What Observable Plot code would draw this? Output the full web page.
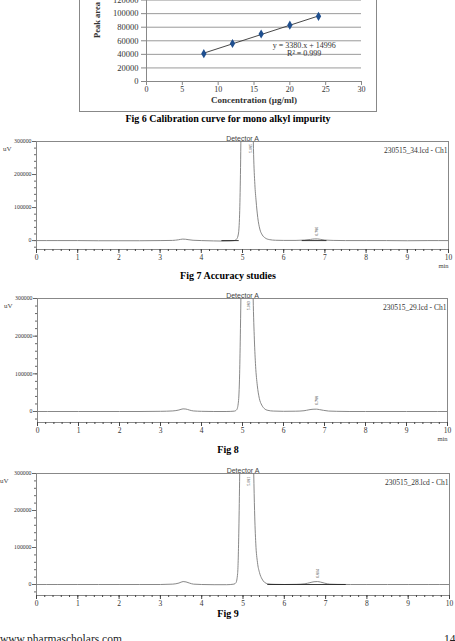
<!DOCTYPE html>
<html><head><meta charset="utf-8">
<script src="https://cdn.jsdelivr.net/npm/d3@7"></script>
<script src="https://cdn.jsdelivr.net/npm/@observablehq/plot@0.6"></script>
<style>
body{margin:0;background:#fff}
#page{position:relative;width:455px;height:641px;overflow:hidden;font-family:"Liberation Serif",serif;background:#fff}
.cap{position:absolute;left:0;width:456px;text-align:center;font-weight:bold;font-size:10px;line-height:12px;color:#000;font-family:"Liberation Serif",serif}
</style></head><body><div id="page"></div>
<script>
// ---- Fig 6 calibration data ----
const calConc = [8, 12, 16, 20, 24];
const calArea = [41000, 56000, 70000, 83000, 96000];
const calXTicks = [0, 5, 10, 15, 20, 25, 30];
const calYTicks = [0, 20000, 40000, 60000, 80000, 100000, 120000, 140000];
const calEquation = ["y = 3380.x + 14996", "R² = 0.999"];
const calEqX = [22, 22];
const calEqY = [53200, 41000];

// ---- Chromatogram data ----
const fig7Time = [0,0.5,1,1.5,2,2.5,3,3.3,3.45,3.55,3.62,3.7,3.8,4.0,4.3,4.5,4.7,4.8,4.86,4.9,4.93,4.95,4.97,5.0,5.1,5.2,5.24,5.27,5.3,5.33,5.37,5.42,5.48,5.55,5.65,5.8,6.0,6.3,6.5,6.65,6.75,6.82,6.9,7.0,7.2,7.5,8,8.5,9,9.5,10];
const fig7Signal = [0,0,0,-500,-500,-500,0,500,2500,4500,4000,2500,1000,0,-1000,-1500,-1000,0,5000,20000,80000,200000,400000,700000,950000,700000,450000,260000,170000,120000,70000,35000,17000,8000,3000,1000,500,500,1500,3500,5000,5000,3500,1500,500,0,0,0,-500,0,0];
const fig7BaseStart = [4.5, 6.45];
const fig7BaseEnd = [4.92, 7.05];
const fig7PeakT = [5.19, 6.81];
const fig7PeakV = [279000, 28000];
const fig7PeakLabel = ["5.085", "6.786"];

const fig8Time = [0,0.5,1,1.5,2,2.5,3,3.3,3.45,3.55,3.62,3.7,3.8,4.0,4.3,4.6,4.8,4.86,4.9,4.93,4.95,4.98,5.05,5.15,5.23,5.26,5.29,5.32,5.36,5.41,5.47,5.53,5.62,5.75,6.0,6.3,6.5,6.62,6.72,6.8,6.88,6.98,7.1,7.3,7.6,8,8.5,9,9.5,10];
const fig8Signal = [0,0,0,0,0,0,500,1500,4000,7000,6500,4000,1500,500,0,0,1000,5000,25000,100000,220000,450000,800000,950000,500000,300000,190000,120000,70000,35000,17000,8000,3000,1200,500,800,2000,4500,6000,6200,5000,3000,1200,500,0,0,0,0,0,0];
const fig8BaseStart = [];
const fig8BaseEnd = [];
const fig8PeakT = [5.15, 6.80];
const fig8PeakV = [281000, 29000];
const fig8PeakLabel = ["5.083", "6.788"];

const fig9Time = [0,0.5,1,1.5,2,2.5,3,3.3,3.45,3.55,3.62,3.7,3.8,4.0,4.3,4.6,4.78,4.83,4.87,4.9,4.92,4.95,5.05,5.15,5.23,5.26,5.28,5.31,5.35,5.40,5.46,5.52,5.6,5.75,6.0,6.3,6.5,6.62,6.72,6.8,6.88,6.98,7.1,7.3,7.6,8,8.5,9,9.5,10];
const fig9Signal = [0,0,0,0,0,0,0,1000,4000,8000,7000,4000,1000,0,-500,-500,1000,5000,30000,150000,300000,600000,900000,950000,500000,300000,200000,110000,60000,32000,15000,6000,2000,500,0,500,2000,5000,7500,8000,6500,3500,1000,300,0,0,0,0,0,0];
const fig9BaseStart = [5.6];
const fig9BaseEnd = [7.5];
const fig9PeakT = [5.14, 6.80];
const fig9PeakV = [279000, 30000];
const fig9PeakLabel = ["5.081", "6.804"];

const chromXMajor = [0,1,2,3,4,5,6,7,8,9,10];
const chromXMinor = d3.range(0, 10.001, 0.2);
const chromYMajor = [0, 100000, 200000, 300000];
const chromYMinor = d3.range(-20000, 300001, 20000);

const page = document.getElementById("page");
const serif = "Liberation Serif";

function place(el, left, top) {
  el.style.position = "absolute";
  el.style.left = left + "px";
  el.style.top = top + "px";
  page.appendChild(el);
  return el;
}

// ---- Fig 6 ----
const calData = calConc.map((c, i) => ({c, a: calArea[i]}));
const eqData = calEquation.map((t, i) => ({t, x: calEqX[i], y: calEqY[i]}));
const calib = Plot.plot({
  width: 298, height: 142,
  marginLeft: 67, marginRight: 16, marginTop: 16, marginBottom: 31,
  x: {domain: [0, 30]},
  y: {domain: [0, 140000]},
  style: {fontFamily: serif, fontSize: "8px", color: "#333", background: "transparent"},
  marks: [
    Plot.gridY(calYTicks.filter(d => d > 0), {stroke: "#9a9a9a", strokeOpacity: 1}),
    Plot.axisY({ticks: calYTicks, tickSize: 5, tickPadding: 3, label: null, tickFormat: d3.format("d"), stroke: "#888", fontSize: 8.5}),
    Plot.axisX({ticks: calXTicks, tickSize: 4, tickPadding: 1, label: null, stroke: "#888", fontSize: 8}),
    Plot.ruleY([0], {stroke: "#888"}),
    Plot.ruleX([0], {stroke: "#888"}),
    Plot.linearRegressionY(calData, {x: "c", y: "a", ci: 0, stroke: "#333", strokeWidth: 0.9}),
    Plot.dot(calData, {x: "c", y: "a", symbol: "diamond", fill: "#1f4f8f", r: 2.8}),
    Plot.text(eqData, {x: "x", y: "y", text: "t", fontSize: 8, fill: "#333"}),
    Plot.text(["Peak area"], {text: d => d, frameAnchor: "left", dx: -49, dy: 4, rotate: -90, fontWeight: "bold", fontSize: 8.5, fill: "#333"}),
    Plot.text(["Concentration (µg/ml)"], {text: d => d, frameAnchor: "bottom", dy: 21, fontWeight: "bold", fontSize: 9, fill: "#333"})
  ]
});
calib.style.outline = "1px solid #888";
calib.style.outlineOffset = "-1px";
place(calib, 79, -30);

function caption(text, top) {
  const d = document.createElement("div");
  d.className = "cap";
  d.textContent = text;
  d.style.top = top + "px";
  page.appendChild(d);
}
caption("Fig 6 Calibration curve for mono alkyl impurity", 113);

// ---- Chromatograms ----
function chrom(cfg) {
  const data = cfg.time.map((t, i) => ({t, v: cfg.signal[i]}));
  const base = cfg.baseStart.map((s, i) => ({x1: s, x2: cfg.baseEnd[i]}));
  const peaks = cfg.peakT.map((t, i) => ({t, v: cfg.peakV[i], l: cfg.peakLabel[i]}));
  const marks = [
    Plot.frame({stroke: "#888"}),
    Plot.axisY({ticks: chromYMinor, tickSize: 2, text: null, label: null, stroke: "#666"}),
    Plot.axisY({ticks: chromYMajor, tickSize: 4, tickPadding: 1, label: null, tickFormat: d3.format("d"), fontSize: 5.8, stroke: "#666"}),
    Plot.axisX({ticks: chromXMinor, tickSize: 2, text: null, label: null, stroke: "#444"}),
    Plot.axisX({ticks: chromXMajor, tickSize: 4, tickPadding: 1.5, label: null, fontSize: 7.5, stroke: "#444"}),
    Plot.line(data, {x: "t", y: "v", stroke: "#7a7a7a", strokeWidth: 0.9, curve: "monotone-x", clip: true}),
    Plot.ruleY(base, {x1: "x1", x2: "x2", y: 0, stroke: "#222", strokeWidth: 0.9}),
    Plot.text(peaks, {x: "t", y: "v", text: "l", rotate: -90, fontSize: 4, fill: "#444"}),
    Plot.text(["Detector A"], {text: d => d, frameAnchor: "top", dy: -5, fontSize: 7, fontFamily: "Liberation Sans", fill: "#444"}),
    Plot.text([cfg.file], {text: d => d, frameAnchor: "top-right", dx: -1, dy: 6, textAnchor: "end", fontSize: 7.5, fill: "#333"}),
    Plot.text(["uV"], {text: d => d, frameAnchor: "top-left", dx: cfg.uvDx, dy: 5, textAnchor: "end", fontSize: 7, fill: "#444"})
  ];
  if (cfg.min) marks.push(Plot.text(["min"], {text: d => d, frameAnchor: "bottom-right", dy: 18, textAnchor: "end", fontSize: 6.5, fill: "#444"}));
  const p = Plot.plot({
    width: 455, height: cfg.height,
    marginLeft: cfg.ml, marginRight: cfg.mr, marginTop: 13, marginBottom: 22,
    x: {domain: [0, 10]},
    y: {domain: [cfg.ymin, 300000]},
    style: {fontFamily: serif, fontSize: "6px", color: "#333", background: "transparent", overflow: "visible"},
    marks
  });
  place(p, 0, cfg.top);
}

chrom({time: fig7Time, signal: fig7Signal, baseStart: fig7BaseStart, baseEnd: fig7BaseEnd,
  peakT: fig7PeakT, peakV: fig7PeakV, peakLabel: fig7PeakLabel, file: "230515_34.lcd - Ch1",
  top: 128, height: 143, ml: 36, mr: 7, ymin: -27000, uvDx: -25, min: true});
caption("Fig 7 Accuracy studies", 270);

chrom({time: fig8Time, signal: fig8Signal, baseStart: fig8BaseStart, baseEnd: fig8BaseEnd,
  peakT: fig8PeakT, peakV: fig8PeakV, peakLabel: fig8PeakLabel, file: "230515_29.lcd - Ch1",
  top: 285, height: 159, ml: 37, mr: 8, ymin: -29200, uvDx: -25, min: true});
caption("Fig 8", 444);

chrom({time: fig9Time, signal: fig9Signal, baseStart: fig9BaseStart, baseEnd: fig9BaseEnd,
  peakT: fig9PeakT, peakV: fig9PeakV, peakLabel: fig9PeakLabel, file: "230515_28.lcd - Ch1",
  top: 460, height: 157, ml: 36, mr: 6, ymin: -29700, uvDx: -28, min: false});
caption("Fig 9", 608);

// footer
const foot = document.createElement("div");
foot.textContent = "www.pharmascholars.com";
foot.style.cssText = "position:absolute;left:0;top:633px;font-size:11.5px;line-height:12px;color:#222";
page.appendChild(foot);
const pg = document.createElement("div");
pg.textContent = "14";
pg.style.cssText = "position:absolute;left:444px;top:633px;font-size:11.5px;line-height:12px;color:#222";
page.appendChild(pg);
</script>
</body></html>
